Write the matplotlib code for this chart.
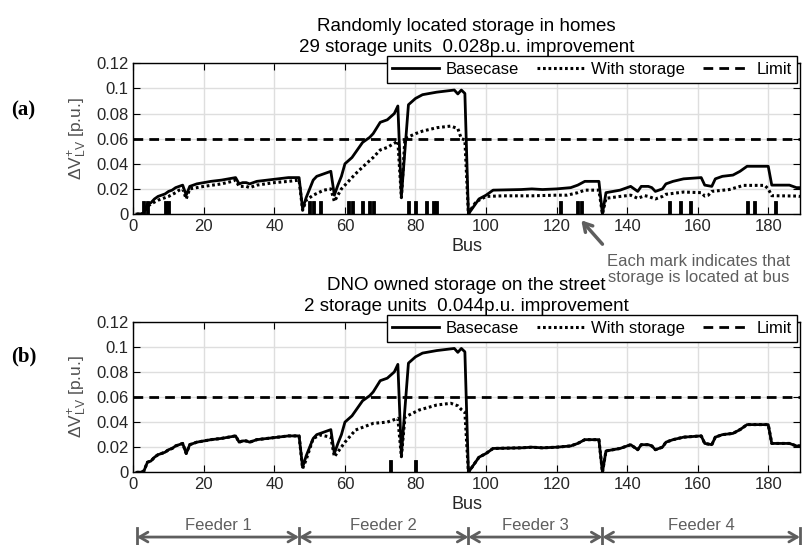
import numpy as np
import matplotlib
matplotlib.use("Agg")
import matplotlib.pyplot as plt
import matplotlib.transforms as mtransforms

plt.rcParams['font.family'] = ['Liberation Sans', 'DejaVu Sans']
plt.rcParams['mathtext.fontset'] = 'custom'
plt.rcParams['mathtext.rm'] = 'Liberation Sans'
plt.rcParams['mathtext.it'] = 'Liberation Sans:italic'

# voltage rise along the buses, basecase (same in both panels)
base_bus = [1, 2, 3, 4, 5, 6, 7, 8, 9, 10, 11, 12, 13, 14, 15, 16, 17, 18, 20, 22, 25, 27, 29,
            30, 31, 32, 33, 35, 38, 41, 44, 47,
            48, 49, 51, 52, 53, 55, 56, 57, 58, 59, 60, 62, 63, 65, 66, 67, 68, 70, 72, 74, 75,
            76, 78, 80, 82, 86, 91, 92, 93, 94,
            95, 96, 97, 98, 100, 101, 102, 110, 113, 116, 120, 124, 126, 128, 132,
            133, 134, 136, 138, 140, 141, 143, 144, 146, 147, 148, 150, 151, 153, 156, 161,
            162, 164, 165, 167, 170, 172, 174, 180, 181, 186, 188, 189]
base_val = [0, 0, 0.001, 0.008, 0.009, 0.012, 0.014, 0.015, 0.016, 0.018, 0.019, 0.021, 0.022,
            0.023, 0.015, 0.022, 0.023, 0.024, 0.025, 0.026, 0.027, 0.028, 0.029,
            0.024, 0.025, 0.025, 0.024, 0.026, 0.027, 0.028, 0.029, 0.029,
            0.004, 0.013, 0.027, 0.030, 0.031, 0.033, 0.034, 0.015, 0.023, 0.030, 0.040, 0.045,
            0.049, 0.057, 0.059, 0.061, 0.064, 0.073, 0.075, 0.080, 0.086,
            0.014, 0.087, 0.092, 0.095, 0.097, 0.0987, 0.0956, 0.0987, 0.096,
            0, 0.004, 0.008, 0.012, 0.015, 0.017, 0.019, 0.0195, 0.020, 0.0195, 0.020, 0.021,
            0.023, 0.026, 0.026,
            0, 0.017, 0.018, 0.019, 0.021, 0.022, 0.018, 0.022, 0.022, 0.021, 0.018, 0.020,
            0.024, 0.026, 0.028, 0.029,
            0.023, 0.022, 0.028, 0.030, 0.031, 0.034, 0.038, 0.038, 0.023, 0.023, 0.021, 0.021]

# (a) randomly located storage in homes
stor_a_bus = [1, 2, 3, 4, 5, 7, 8, 10, 12, 13, 14, 15, 16, 18, 20, 25, 28, 29, 30, 32, 33, 35,
              40, 44, 47,
              48, 49, 51, 54, 56, 57, 59, 60, 63, 66, 68, 70, 72, 75, 76, 77, 80, 82, 86, 90,
              92, 93, 94,
              95, 96, 97, 98, 100, 105, 113, 120, 123, 126, 128, 132,
              133, 134, 138, 141, 143, 145, 146, 148, 150, 151, 156, 161, 162, 163, 164, 169,
              173, 179, 180, 181, 188, 189]
stor_a_val = [0, 0, 0, 0.006, 0.008, 0.011, 0.012, 0.014, 0.017, 0.019, 0.020, 0.012, 0.020,
              0.021, 0.022, 0.024, 0.026, 0.027, 0.022, 0.022, 0.021, 0.023, 0.025, 0.026, 0.027,
              0.003, 0.011, 0.015, 0.019, 0.020, 0.010, 0.020, 0.023, 0.032, 0.040, 0.045, 0.051,
              0.053, 0.058, 0.013, 0.060, 0.064, 0.066, 0.0687, 0.070, 0.068, 0.060, 0.059,
              0, 0.005, 0.009, 0.011, 0.014, 0.0145, 0.0145, 0.015, 0.015, 0.017, 0.019, 0.019,
              0, 0.0125, 0.014, 0.015, 0.0125, 0.0146, 0.014, 0.012, 0.014, 0.0157, 0.0175,
              0.017, 0.0143, 0.015, 0.018, 0.0195, 0.0228, 0.0228, 0.020, 0.0146, 0.0143, 0.014]

# (b) DNO storage on the street: only feeder 2 changes
stor_b_f2_bus = [48, 49, 51, 53, 56, 57, 60, 63, 68, 72, 75, 76, 77, 81, 86, 90, 92, 93, 94, 95]
stor_b_f2_val = [0.003, 0.010, 0.027, 0.0297, 0.028, 0.0124, 0.024, 0.0337, 0.039, 0.040,
                 0.043, 0.0124, 0.044, 0.0496, 0.0536, 0.055, 0.053, 0.050, 0.048, 0]

marks_a = [3, 4, 9, 10, 50, 51, 53, 61, 62, 65, 67, 68, 78, 80, 83, 85, 86,
           121, 126, 127, 152, 155, 158, 174, 176, 182]
marks_b = [73, 80]

limit = 0.06
feeder_edges = [1, 47, 95, 133, 189]
feeder_names = ['Feeder 1', 'Feeder 2', 'Feeder 3', 'Feeder 4']

titles = ['Randomly located storage in homes\n29 storage units  0.028p.u. improvement',
          'DNO owned storage on the street\n2 storage units  0.044p.u. improvement']
yticks = [0, 0.02, 0.04, 0.06, 0.08, 0.1, 0.12]
ytick_labels = ['0', '0.02', '0.04', '0.06', '0.08', '0.1', '0.12']

# build panel (b) storage curve from the basecase outside feeder 2
b_pairs = [(b, v) for b, v in zip(base_bus, base_val) if b < 48 or b > 95]
b_pairs += list(zip(stor_b_f2_bus, stor_b_f2_val))
b_pairs.sort()
stor_b_bus = [p[0] for p in b_pairs]
stor_b_val = [p[1] for p in b_pairs]

fig = plt.figure(figsize=(8.04, 5.45), dpi=100)
ax1 = fig.add_axes([0.1658, 0.6073, 0.8292, 0.2766])
ax2 = fig.add_axes([0.1658, 0.1334, 0.8292, 0.2763])

gray = '#5e5e5e'
for ax, sb, sv, marks, title in [(ax1, stor_a_bus, stor_a_val, marks_a, titles[0]),
                                 (ax2, stor_b_bus, stor_b_val, marks_b, titles[1])]:
    ax.plot(base_bus, base_val, color='k', lw=2.0, label='Basecase', zorder=3)
    ax.plot(sb, sv, color='k', lw=2.2, ls=(0, (0.9, 0.9)), label='With storage', zorder=4)
    ax.axhline(limit, color='k', lw=2.0, ls=(0, (3.5, 2.2)), label='Limit', zorder=3)
    ax.bar(marks, 0.01, width=0.85, color='k', edgecolor='k', linewidth=0.6, zorder=5)
    ax.set_xlim(0, 189)
    ax.set_ylim(0, 0.12)
    ax.set_xticks(range(0, 181, 20))
    ax.set_yticks(yticks)
    ax.set_yticklabels(ytick_labels)
    ax.tick_params(direction='in', top=True, right=True, length=5, width=0.8,
                   labelsize=12, labelcolor='#262626')
    ax.grid(True, color='#dedede', lw=1)
    ax.set_axisbelow(True)
    for s in ax.spines.values():
        s.set_linewidth(1)
    ax.set_xlabel('Bus', fontsize=13, labelpad=3, color='#262626')
    ax.set_ylabel(r'$\Delta$V$^{+}_{\rm LV}$ [p.u.]', fontsize=12.5, color='#505050', labelpad=5)
    ax.set_title(title, fontsize=13.5, linespacing=1.3, pad=8)
    leg = ax.legend(loc='upper right', bbox_to_anchor=(0.996, 1.045), ncol=3, fontsize=12,
                    handlelength=2.8, columnspacing=1.1, handletextpad=0.4,
                    fancybox=False, framealpha=1, edgecolor='k', borderpad=0.35,
                    borderaxespad=0)
    leg.get_frame().set_linewidth(1)
    leg.set_zorder(10)

fig.text(0.029, 0.798, '(a)', fontsize=15, fontweight='bold', family='Liberation Serif',
         ha='center', va='center')
fig.text(0.029, 0.345, '(b)', fontsize=15, fontweight='bold', family='Liberation Serif',
         ha='center', va='center')

# arrow pointing to the storage marks
ax1.annotate('', xy=(127, -0.005), xytext=(133, -0.024), annotation_clip=False,
             arrowprops=dict(arrowstyle='->,head_length=0.6,head_width=0.35', lw=2.5,
                             color=gray, shrinkA=0, shrinkB=0))
ax1.text(0.8485, -0.368, 'Each mark indicates that\nstorage is located at bus',
         transform=ax1.transAxes, ha='center', va='center', fontsize=12, color=gray,
         linespacing=1.1)

# feeder ranges under panel (b)
trans = mtransforms.blended_transform_factory(ax2.transData, ax2.transAxes)
for i, name in enumerate(feeder_names):
    x0, x1 = feeder_edges[i], feeder_edges[i + 1]
    ax2.annotate('', xy=(x0, -0.43), xytext=(x1, -0.43), xycoords=trans, textcoords=trans,
                 annotation_clip=False,
                 arrowprops=dict(arrowstyle='<->,head_length=0.6,head_width=0.35', lw=2,
                                 color=gray, shrinkA=0, shrinkB=0))
    ax2.text((x0 + x1) / 2, -0.35, name, transform=trans, ha='center', va='center',
             fontsize=12, color=gray)
for e in feeder_edges:
    ax2.plot([e, e], [-0.37, -0.49], transform=trans, color=gray, lw=2, clip_on=False)

fig.savefig('out.png', dpi=100)
